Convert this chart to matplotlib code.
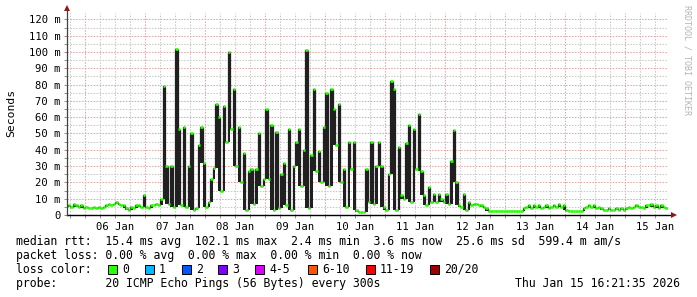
import numpy as np
import matplotlib
matplotlib.use("Agg")
import matplotlib.pyplot as plt
from matplotlib.patches import Rectangle

# ---------------- data (median rtt in ms, hourly samples) ----------------
# Jan 5 17:00 .. 23:00
jan05 = [6, 5, 7, 6, 5, 6, 4]
jan06 = [5, 4, 4, 5, 4, 5, 4, 5, 6, 7, 6, 7, 8, 7, 6, 6, 4, 3, 5, 4, 6, 6, 5, 12]
jan07 = [5, 4, 6, 6, 7, 6, 10, 79, 30, 7, 30, 5, 102, 53, 6, 54, 5, 30, 50, 3, 4, 43, 54, 32]
jan08 = [5, 8, 22, 29, 68, 60, 15, 67, 45, 100, 53, 77, 30, 54, 20, 38, 3, 27, 28, 7, 28, 50, 18, 22]
jan09 = [65, 22, 55, 3, 51, 4, 25, 32, 6, 53, 3, 30, 45, 53, 18, 40, 101, 4, 37, 77, 27, 39, 20, 54]
jan10 = [75, 18, 77, 65, 43, 68, 20, 28, 5, 45, 28, 45, 3, 2, 2, 2, 28, 8, 45, 7, 30, 45, 30, 5]
jan11 = [3, 25, 82, 77, 3, 42, 12, 10, 44, 55, 8, 53, 28, 62, 27, 12, 6, 17, 8, 13, 8, 13, 10, 8]
jan12 = [13, 7, 33, 52, 20, 6, 5, 13, 3, 8, 6, 7, 7, 6, 6, 5, 4, 2.2, 2.2, 2.2, 2.2, 2.2, 2.2, 2.2]
jan13 = [2.2, 2.2, 2.2, 2.2, 2.2, 2.2, 2.2, 4, 5, 6, 4, 6, 5, 6, 4, 5, 6, 4, 5, 6, 5, 7, 5, 6]
jan14 = [3, 2.2, 2.2, 2.2, 2.2, 2.2, 2.2, 4, 5, 6, 5, 6, 4, 5, 4, 3, 3, 4, 3, 3, 4, 3, 4, 3]
# Jan 15 00:00 .. 16:00
jan15 = [4, 5, 4, 5, 6, 5, 5, 4, 6, 6, 7, 5, 6, 4, 6, 5, 4]

day_labels = ["06 Jan", "07 Jan", "08 Jan", "09 Jan", "10 Jan",
              "11 Jan", "12 Jan", "13 Jan", "14 Jan", "15 Jan"]
y_tick_values = [0, 10, 20, 30, 40, 50, 60, 70, 80, 90, 100, 110, 120]
y_tick_labels = ["0"] + [f"{v} m" for v in y_tick_values[1:]]

loss_labels = ["0", "1", "2", "3", "4-5", "6-10", "11-19", "20/20"]
loss_colors = ["#26ff00", "#00b8ff", "#0059ff", "#7e00ff", "#dd00ff",
               "#ff5500", "#ff0000", "#a10000"]

legend_lines = [
    "median rtt:  15.4 ms avg  102.1 ms max  2.4 ms min  3.6 ms now  25.6 ms sd  599.4 m am/s",
    "packet loss: 0.00 % avg  0.00 % max  0.00 % min  0.00 % now",
    "loss color:",
    "probe:       20 ICMP Echo Pings (56 Bytes) every 300s",
]
timestamp = "Thu Jan 15 16:21:35 2026"

# ---------------- build series ----------------
median = np.array(jan05 + jan06 + jan07 + jan08 + jan09 + jan10 +
                  jan11 + jan12 + jan13 + jan14 + jan15, dtype=float)
# hours relative to Jan 6 00:00, first sample at Jan 5 17:00
t = -7 + np.arange(len(median), dtype=float)
t_end = t + 1
prev_v = np.concatenate([median[:1], median[:-1]])
next_v = np.concatenate([median[1:], median[-1:]])
lower_env = np.minimum(np.minimum(prev_v, median), next_v)

W, H = 697, 297
fig = plt.figure(figsize=(W / 100, H / 100), dpi=100)
fig.patch.set_facecolor("white")

L, R, B, T = 67, 668, 215, 13
ax = fig.add_axes([L / W, (H - B) / H, (R - L) / W, (B - T) / H])
xmin, xmax = -7.2, 233.2
ax.set_xlim(xmin, xmax)
ax.set_ylim(0, 123.9)
ax.set_facecolor("white")

mono = "DejaVu Sans Mono"

# grid
minor_col = "#c8c8c8"
major_col = "#e6a3a3"
dot = (0, (1.4, 1.4))
for h in np.arange(-6, xmax, 6):
    is_major = (h % 24 == 0)
    ax.axvline(h, color=major_col if is_major else minor_col, lw=0.75,
               ls=dot, zorder=1)
for v in np.arange(5, 124, 5):
    is_major = (v % 10 == 0)
    ax.axhline(v, color=major_col if is_major else minor_col, lw=0.75,
               ls=dot, zorder=1)

# dark "smoke" body between neighbouring levels
ax.bar(t, median - lower_env, bottom=lower_env, width=1.0, align="edge",
       color="#202020", linewidth=0, zorder=3)
ax.vlines(t_end[:-1], median[:-1], median[1:], color="#202020", lw=0.9, zorder=3)
# median levels in loss colour
ax.hlines(median, t, t_end, color=loss_colors[0], lw=1.9, zorder=4,
          capstyle="butt")

# ticks
ax.set_xticks(np.arange(12, 12 + 24 * len(day_labels), 24))
ax.set_xticklabels(day_labels, fontfamily=mono, fontsize=7.6)
ax.set_xticks(np.arange(-6, xmax, 6), minor=True)
ax.set_yticks(y_tick_values)
ax.set_yticklabels(y_tick_labels, fontfamily=mono, fontsize=7.6)
ax.set_yticks(np.arange(5, 124, 5), minor=True)
ax.tick_params(axis="both", which="both", length=2, width=0.7, color="#909090")
ax.tick_params(axis="x", which="major", pad=3)
ax.tick_params(axis="y", which="major", pad=2.5)

for s in ["top", "right"]:
    ax.spines[s].set_visible(False)
ax.spines["left"].set_visible(False)
ax.spines["bottom"].set_color("black")
ax.spines["bottom"].set_linewidth(1.0)
ax.spines["bottom"].set_bounds(xmin, xmax + 1.5)

# axis lines & arrows
ax.plot([xmin, xmin], [0, 126.5], color="#404040", lw=0.9, clip_on=False, zorder=5)
ax.plot([xmin], [127.0], marker="^", ms=4.5, color="#8b1a1a", clip_on=False, zorder=6,
        markeredgewidth=0)
ax.plot([xmax + 2.4], [0], marker=">", ms=4.5, color="#8b1a1a", clip_on=False, zorder=6,
        markeredgewidth=0)

# y label
fig.text(11 / W, 1 - 113 / H, "Seconds", rotation=90, ha="center", va="center",
         fontfamily=mono, fontsize=8.2, color="black")

# watermark
fig.text(687 / W, 1 - 60 / H, "RRDTOOL / TOBI OETIKER", rotation=270, ha="center",
         va="center", fontfamily=mono, fontsize=6.0, color="#b4b4b4")

# legend
fs = 8.3
ys = [241.5, 255.5, 269.5, 283.5]
for line, y in zip(legend_lines, ys):
    fig.text(16 / W, 1 - y / H, line, ha="left", va="center", fontfamily=mono,
             fontsize=fs, color="black")
fig.text(680 / W, 1 - ys[3] / H, timestamp, ha="right", va="center",
         fontfamily=mono, fontsize=fs, color="black")

box_x = [108, 145, 182, 218, 255, 308, 366, 430]
for bx, lab, col in zip(box_x, loss_labels, loss_colors):
    fig.add_artist(Rectangle(((bx) / W, 1 - (ys[2] + 4.5) / H), 9 / W, 9 / H,
                             transform=fig.transFigure, facecolor=col,
                             edgecolor="black", lw=0.7))
    fig.text((bx + 14) / W, 1 - ys[2] / H, lab, ha="left", va="center",
             fontfamily=mono, fontsize=fs, color="black")

fig.savefig("out.png", dpi=100, facecolor="white")
